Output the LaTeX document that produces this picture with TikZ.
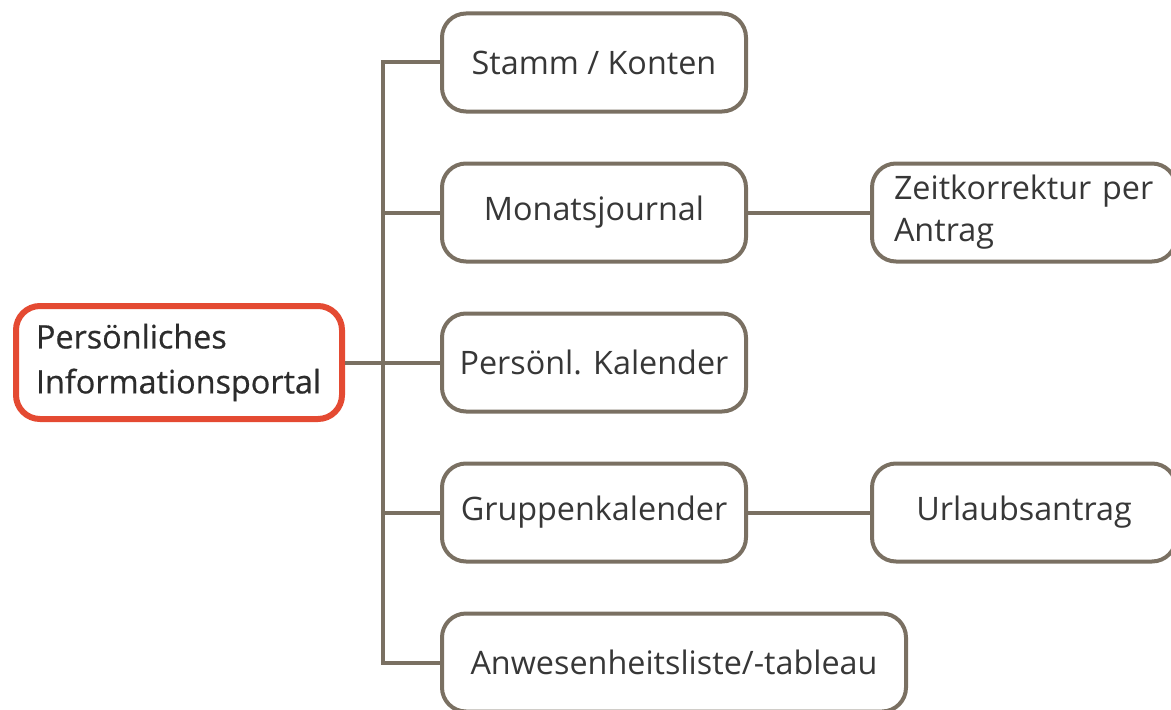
\documentclass[tikz,border=0pt]{standalone}
\usepackage{fontspec}
\setmainfont{Open Sans}
\newfontfamily\rootfont{Open Sans}[FakeBold=0.6]
\usetikzlibrary{positioning,calc}
\definecolor{boxline}{RGB}{122,112,98}
\definecolor{rootline}{RGB}{228,74,50}
\definecolor{txt}{RGB}{55,55,55}

\begin{document}
\begin{tikzpicture}
	\tikzstyle{portbox} = [rectangle, draw=boxline, line width=0.1cm, rounded corners=0.6cm, minimum height=2.45cm, minimum width=7.6cm, text=txt, font=\fontsize{23}{30}\selectfont]
	\tikzstyle{rootbox} = [rectangle, draw=rootline, line width=0.15cm, rounded corners=0.6cm, minimum height=2.825cm, minimum width=8.15cm, text width=7.15cm, align=left, text=txt!80!black, font=\rootfont\fontsize{23}{32}\selectfont]
	\tikzstyle{conn} = [draw=boxline, line width=0.1cm]
	\clip (0,0) rectangle (29.275, -17.725);
	\node[rootbox] (root) at (4.475, -9.0625) {Persönliches\\Informationsportal};
	\node[right=2.375cm of root, portbox] (kal) {Persönl. Kalender};
	\node[above=1.2cm of kal, portbox] (mon) {Monatsjournal};
	\node[above=1.2cm of mon, portbox] (stamm) {Stamm / Konten};
	\node[below=1.2cm of kal, portbox] (grp) {Gruppenkalender};
	\node[below=1.2cm of grp.south west, anchor=north west, portbox, minimum width=11.6cm] (anw) {Anwesenheitsliste/-tableau};
	\node[right=3.05cm of mon, portbox, text width=6.5cm, align=left] (zeit) {Zeitkorrektur per\\Antrag};
	\node[right=3.05cm of grp, portbox] (url) {Urlaubsantrag};
	
	\coordinate[right=0.95cm of root.east] (fork);
	
	\draw[conn] (root.east) -- (kal.west);
	\draw[conn] (stamm.west) -| (fork) |- (anw.west);
	\draw[conn] (mon.west) -- (mon.west -| fork);
	\draw[conn] (grp.west) -- (grp.west -| fork);
	\draw[conn] (mon.east) -- (zeit.west);
	\draw[conn] (grp.east) -- (url.west);
	
\end{tikzpicture}
\end{document}
